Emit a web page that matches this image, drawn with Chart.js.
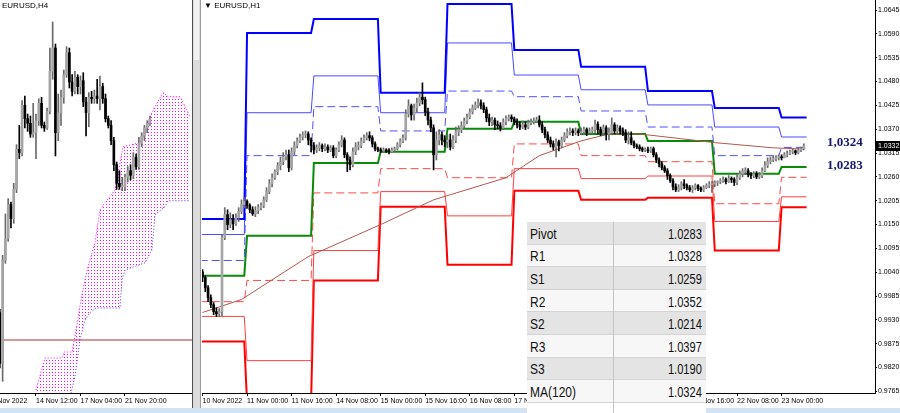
<!DOCTYPE html>
<html><head><meta charset="utf-8">
<script src="https://cdn.jsdelivr.net/npm/chart.js@4.4.0/dist/chart.umd.min.js"></script>
<style>
html,body{margin:0;padding:0;background:#fff;width:900px;height:413px;overflow:hidden;position:relative;font-family:'Liberation Sans',Arial,sans-serif;}
.abs{position:absolute;}
#lc{left:0;top:0;}
#rc{left:200px;top:0;}
.ttl{font-family:'Liberation Sans',Arial,sans-serif;font-size:8px;color:#000;white-space:nowrap;}
#tbl{left:527px;top:222px;width:179px;height:191px;overflow:hidden;background:#fff;}
.row{height:22.6px;box-sizing:border-box;border-bottom:1px solid #d4d4d4;position:relative;background:#f7f7f7;}
.row.g{background:#e4e4e4;}
.lab{position:absolute;left:3px;top:50%;transform:translateY(-50%) scaleX(0.8);transform-origin:left center;font-size:15px;color:#111;white-space:nowrap;}
.val{position:absolute;right:4px;top:50%;transform:translateY(-50%) scaleX(0.74);transform-origin:right center;font-size:15px;color:#111;white-space:nowrap;}
#div{left:86px;top:0;width:1px;height:191px;background:#c4c4c4;}
</style></head>
<body>
<canvas id="lc" class="abs" width="192" height="408"></canvas>
<div class="abs" style="left:192px;top:0;width:1px;height:408px;background:#505050"></div>
<div class="abs" style="left:193px;top:0;width:7px;height:408px;background:#dcdcdc"></div>
<div class="abs" style="left:194px;top:0;width:5px;height:60px;background:#f2f2f2"></div>
<div class="abs" style="left:200px;top:0;width:1px;height:408px;background:#9a9a9a"></div>
<canvas id="rc" class="abs" width="700" height="408"></canvas>
<div class="abs" style="left:0;top:408px;width:900px;height:5px;background:#d3e3f3"></div>
<div class="abs ttl" style="left:2px;top:1px;">EURUSD,H4</div>
<div class="abs ttl" style="left:204px;top:1px;">▼ EURUSD,H1</div>
<div id="tbl" class="abs"></div>
<script>
// ---------------- DATA ----------------
// EURUSD H1 bars [open, high, low, close], index 0 = 10 Nov 2022 08:00
const h1Bars = [
[1.0041,1.0046,1.0018,1.0028],[1.0028,1.0032,0.9995,1.0004],[1.0004,1.0009,0.9972,0.9981],[0.9981,0.9988,0.9958,0.9965],
[0.9965,0.9970,0.9942,0.9949],[0.9949,0.9958,0.9938,0.9944],[0.9944,0.9956,0.9938,0.9949],[0.9949,1.0127,0.9940,1.0120],
[1.0120,1.0189,1.0115,1.0173],[1.0173,1.0184,1.0138,1.0150],[1.0150,1.0177,1.0143,1.0161],[1.0161,1.0173,1.0138,1.0152],
[1.0152,1.0175,1.0148,1.0166],[1.0166,1.0189,1.0157,1.0180],[1.0180,1.0207,1.0175,1.0196],[1.0196,1.0212,1.0189,1.0203],
[1.0203,1.0207,1.0187,1.0194],[1.0194,1.0198,1.0177,1.0184],[1.0184,1.0191,1.0171,1.0175],[1.0175,1.0191,1.0168,1.0182],
[1.0182,1.0196,1.0175,1.0189],[1.0189,1.0200,1.0184,1.0194],[1.0194,1.0214,1.0189,1.0207],[1.0207,1.0235,1.0203,1.0226],
[1.0226,1.0254,1.0221,1.0244],[1.0244,1.0267,1.0237,1.0258],[1.0258,1.0276,1.0254,1.0272],[1.0272,1.0293,1.0265,1.0286],
[1.0286,1.0306,1.0276,1.0295],[1.0295,1.0316,1.0288,1.0306],[1.0306,1.0322,1.0299,1.0311],[1.0311,1.0322,1.0272,1.0281],
[1.0281,1.0327,1.0276,1.0318],[1.0318,1.0341,1.0311,1.0332],[1.0332,1.0350,1.0327,1.0343],[1.0343,1.0359,1.0339,1.0352],
[1.0352,1.0364,1.0345,1.0357],[1.0357,1.0366,1.0350,1.0359],[1.0359,1.0364,1.0334,1.0345],[1.0345,1.0350,1.0318,1.0332],
[1.0332,1.0339,1.0313,1.0322],[1.0322,1.0334,1.0316,1.0327],[1.0327,1.0339,1.0320,1.0332],[1.0332,1.0336,1.0318,1.0325],
[1.0325,1.0336,1.0320,1.0329],[1.0329,1.0334,1.0316,1.0322],[1.0322,1.0332,1.0318,1.0327],[1.0327,1.0332,1.0304,1.0309],
[1.0309,1.0327,1.0304,1.0322],[1.0322,1.0341,1.0318,1.0334],[1.0334,1.0355,1.0329,1.0345],[1.0345,1.0350,1.0304,1.0311],
[1.0311,1.0316,1.0272,1.0299],[1.0299,1.0306,1.0276,1.0288],[1.0288,1.0327,1.0283,1.0318],[1.0318,1.0339,1.0311,1.0329],
[1.0329,1.0341,1.0322,1.0332],[1.0332,1.0350,1.0327,1.0343],[1.0343,1.0357,1.0339,1.0350],[1.0350,1.0362,1.0345,1.0355],
[1.0355,1.0364,1.0343,1.0350],[1.0350,1.0355,1.0329,1.0336],[1.0336,1.0341,1.0320,1.0325],[1.0325,1.0329,1.0318,1.0322],
[1.0322,1.0327,1.0316,1.0320],[1.0320,1.0327,1.0316,1.0322],[1.0322,1.0325,1.0316,1.0320],[1.0320,1.0325,1.0313,1.0318],
[1.0318,1.0327,1.0316,1.0322],[1.0322,1.0329,1.0318,1.0325],[1.0325,1.0339,1.0322,1.0334],[1.0334,1.0348,1.0329,1.0343],
[1.0343,1.0357,1.0339,1.0350],[1.0350,1.0415,1.0345,1.0405],[1.0405,1.0438,1.0398,1.0424],[1.0424,1.0428,1.0391,1.0403],
[1.0403,1.0428,1.0391,1.0419],[1.0419,1.0442,1.0410,1.0431],[1.0431,1.0454,1.0424,1.0444],[1.0444,1.0477,1.0428,1.0438],
[1.0438,1.0444,1.0401,1.0410],[1.0410,1.0419,1.0380,1.0391],[1.0391,1.0398,1.0364,1.0373],[1.0373,1.0380,1.0276,1.0311],
[1.0311,1.0364,1.0299,1.0345],[1.0345,1.0369,1.0334,1.0357],[1.0357,1.0364,1.0334,1.0345],[1.0345,1.0355,1.0329,1.0341],
[1.0341,1.0357,1.0327,1.0345],[1.0345,1.0359,1.0322,1.0329],[1.0329,1.0355,1.0325,1.0345],[1.0345,1.0375,1.0339,1.0364],
[1.0364,1.0378,1.0355,1.0369],[1.0369,1.0387,1.0362,1.0378],[1.0378,1.0396,1.0371,1.0389],[1.0389,1.0405,1.0382,1.0398],
[1.0398,1.0417,1.0394,1.0410],[1.0410,1.0426,1.0405,1.0419],[1.0419,1.0433,1.0415,1.0426],[1.0426,1.0440,1.0419,1.0431],
[1.0431,1.0438,1.0417,1.0424],[1.0424,1.0431,1.0408,1.0415],[1.0415,1.0421,1.0387,1.0396],[1.0396,1.0405,1.0378,1.0387],
[1.0387,1.0398,1.0378,1.0391],[1.0391,1.0396,1.0369,1.0380],[1.0380,1.0389,1.0371,1.0378],[1.0378,1.0385,1.0366,1.0373],
[1.0373,1.0394,1.0369,1.0387],[1.0387,1.0401,1.0380,1.0394],[1.0394,1.0403,1.0389,1.0398],[1.0398,1.0403,1.0387,1.0394],
[1.0394,1.0398,1.0380,1.0387],[1.0387,1.0394,1.0373,1.0380],[1.0380,1.0387,1.0369,1.0375],[1.0375,1.0389,1.0371,1.0380],
[1.0380,1.0387,1.0369,1.0375],[1.0375,1.0391,1.0371,1.0385],[1.0385,1.0394,1.0380,1.0387],[1.0387,1.0396,1.0382,1.0389],
[1.0389,1.0398,1.0385,1.0391],[1.0391,1.0401,1.0375,1.0380],[1.0380,1.0387,1.0362,1.0369],[1.0369,1.0375,1.0350,1.0357],
[1.0357,1.0364,1.0339,1.0345],[1.0345,1.0352,1.0329,1.0336],[1.0336,1.0343,1.0322,1.0329],[1.0329,1.0348,1.0306,1.0341],
[1.0341,1.0345,1.0320,1.0332],[1.0332,1.0352,1.0327,1.0345],[1.0345,1.0362,1.0341,1.0355],[1.0355,1.0371,1.0350,1.0364],
[1.0364,1.0373,1.0357,1.0366],[1.0366,1.0371,1.0355,1.0362],[1.0362,1.0373,1.0357,1.0366],[1.0366,1.0371,1.0355,1.0362],
[1.0362,1.0373,1.0357,1.0364],[1.0364,1.0375,1.0357,1.0369],[1.0369,1.0373,1.0355,1.0362],[1.0362,1.0373,1.0359,1.0366],
[1.0366,1.0375,1.0359,1.0369],[1.0369,1.0391,1.0362,1.0382],[1.0382,1.0387,1.0359,1.0369],[1.0369,1.0375,1.0355,1.0362],
[1.0362,1.0380,1.0355,1.0373],[1.0373,1.0378,1.0345,1.0359],[1.0359,1.0373,1.0345,1.0362],[1.0362,1.0396,1.0357,1.0380],
[1.0380,1.0385,1.0359,1.0366],[1.0366,1.0380,1.0362,1.0373],[1.0373,1.0378,1.0359,1.0366],[1.0366,1.0373,1.0355,1.0362],
[1.0362,1.0369,1.0339,1.0345],[1.0345,1.0364,1.0336,1.0350],[1.0350,1.0364,1.0334,1.0339],[1.0339,1.0343,1.0327,1.0332],
[1.0332,1.0336,1.0325,1.0329],[1.0329,1.0334,1.0320,1.0325],[1.0325,1.0329,1.0318,1.0322],[1.0322,1.0327,1.0318,1.0322],
[1.0322,1.0329,1.0316,1.0320],[1.0320,1.0329,1.0316,1.0325],[1.0325,1.0329,1.0306,1.0311],[1.0311,1.0316,1.0293,1.0299],
[1.0299,1.0304,1.0283,1.0290],[1.0290,1.0295,1.0276,1.0281],[1.0281,1.0286,1.0270,1.0274],[1.0274,1.0279,1.0254,1.0263],
[1.0263,1.0267,1.0247,1.0251],[1.0251,1.0256,1.0230,1.0237],[1.0237,1.0244,1.0226,1.0230],[1.0230,1.0242,1.0226,1.0235],
[1.0235,1.0249,1.0230,1.0244],[1.0244,1.0254,1.0233,1.0240],[1.0240,1.0244,1.0230,1.0235],[1.0235,1.0240,1.0226,1.0230],
[1.0230,1.0240,1.0224,1.0235],[1.0235,1.0244,1.0230,1.0240],[1.0240,1.0242,1.0228,1.0233],[1.0233,1.0237,1.0226,1.0230],
[1.0230,1.0240,1.0226,1.0235],[1.0235,1.0244,1.0233,1.0240],[1.0240,1.0249,1.0235,1.0242],[1.0242,1.0249,1.0224,1.0244],
[1.0244,1.0251,1.0237,1.0247],[1.0247,1.0251,1.0240,1.0249],[1.0249,1.0256,1.0244,1.0251],[1.0251,1.0260,1.0247,1.0254],
[1.0254,1.0258,1.0244,1.0249],[1.0249,1.0263,1.0247,1.0256],[1.0256,1.0260,1.0247,1.0254],[1.0254,1.0258,1.0240,1.0247],
[1.0247,1.0265,1.0242,1.0258],[1.0258,1.0274,1.0254,1.0267],[1.0267,1.0279,1.0260,1.0272],[1.0272,1.0281,1.0265,1.0274],
[1.0274,1.0279,1.0260,1.0265],[1.0265,1.0270,1.0256,1.0263],[1.0263,1.0272,1.0258,1.0267],[1.0267,1.0272,1.0256,1.0260],
[1.0260,1.0270,1.0256,1.0263],[1.0263,1.0281,1.0258,1.0274],[1.0274,1.0295,1.0272,1.0286],[1.0286,1.0304,1.0281,1.0295],
[1.0295,1.0306,1.0290,1.0299],[1.0299,1.0309,1.0295,1.0302],[1.0302,1.0309,1.0297,1.0304],[1.0304,1.0311,1.0299,1.0306],
[1.0306,1.0311,1.0299,1.0304],[1.0304,1.0316,1.0304,1.0311],[1.0311,1.0320,1.0306,1.0313],[1.0313,1.0322,1.0311,1.0318],
[1.0318,1.0325,1.0313,1.0320],[1.0320,1.0322,1.0311,1.0316],[1.0316,1.0327,1.0313,1.0322],[1.0322,1.0329,1.0318,1.0325],
[1.0325,1.0336,1.0322,1.0332]
];

// Daily pivot levels (one value per trading day: 10,11,14,15,16,17,18,21,22,23 Nov)
const dayStartIdx = [-1, 16, 40, 64, 88, 112, 136, 160, 184, 208];
const dayEndIdx   = [15, 39, 63, 87, 111, 135, 159, 183, 207, 217];
const r3 = [1.0163, 1.0592, 1.0624, 1.0454, 1.0659, 1.0553, 1.0514, 1.0458, 1.0419, 1.0397];
const r2 = [1.0127, 1.0408, 1.0493, 1.0408, 1.0569, 1.0495, 1.0461, 1.0426, 1.0375, 1.0352];
const r1 = [1.0067, 1.0309, 1.0422, 1.0366, 1.0458, 1.0445, 1.0412, 1.0375, 1.0309, 1.0328];
const pp = [1.0032, 1.0124, 1.0292, 1.0318, 1.0371, 1.0387, 1.0359, 1.0343, 1.0267, 1.0283];
const s1 = [0.9972, 1.0021, 1.0223, 1.0279, 1.0258, 1.0336, 1.0309, 1.0295, 1.0198, 1.0259];
const s2 = [0.9938, 0.9836, 1.0090, 1.0226, 1.0170, 1.0279, 1.0256, 1.0262, 1.0157, 1.0214];
const s3 = [0.9880, 0.9740, 1.0021, 1.0191, 1.0057, 1.0228, 1.0207, 1.0212, 1.0090, 1.0190];

// MA(120) readings (bar index, value)
const maIdx = [0, 14, 38, 64, 83, 109, 121, 136, 146, 157, 172, 184, 205, 216];
const maVal = [0.9947, 0.9977, 1.0076, 1.0150, 1.0207, 1.0258, 1.0309, 1.0343, 1.0359, 1.0359, 1.0348, 1.0339, 1.0327, 1.0324];

const lastPrice = 1.0332;
const maLabelValue = 1.0324;
const pivotLabelValue = 1.0283;

const rightYTicks = [1.0645,1.0590,1.0535,1.0480,1.0425,1.0370,1.0315,1.0260,1.0205,1.0150,1.0095,1.0040,0.9985,0.9930,0.9875,0.9820,0.9765];
const rightXTickIdx = [0,16,32,48,64,80,96,112,128,144,160,176,192,208];
const rightXTickLabels = ['10 Nov 2022','11 Nov 00:00','11 Nov 16:00','14 Nov 08:00','15 Nov 00:00','15 Nov 16:00','16 Nov 08:00','17 Nov 00:00','17 Nov 16:00','18 Nov 08:00','21 Nov 00:00','21 Nov 16:00','22 Nov 08:00','23 Nov 00:00'];

// EURUSD H4 bars [open, high, low, close], first bar index 3 (10 Nov 2022 08:00)
const h4Start = 3;
const h4Bars = [
[1.0041,1.0046,0.9958,0.9965],[0.9965,1.0127,0.9938,1.0120],[1.0120,1.0189,1.0115,1.0152],[1.0152,1.0212,1.0148,1.0203],
[1.0203,1.0207,1.0168,1.0182],[1.0182,1.0235,1.0175,1.0226],[1.0226,1.0293,1.0221,1.0286],[1.0286,1.0322,1.0272,1.0281],
[1.0281,1.0359,1.0276,1.0352],[1.0352,1.0366,1.0318,1.0332],[1.0332,1.0339,1.0313,1.0325],[1.0325,1.0336,1.0304,1.0309],
[1.0309,1.0355,1.0304,1.0311],[1.0311,1.0339,1.0272,1.0329],[1.0329,1.0362,1.0322,1.0355],[1.0355,1.0364,1.0318,1.0322],
[1.0322,1.0327,1.0313,1.0318],[1.0318,1.0348,1.0316,1.0343],[1.0343,1.0438,1.0339,1.0403],[1.0403,1.0477,1.0391,1.0438],
[1.0438,1.0444,1.0276,1.0311],[1.0311,1.0369,1.0299,1.0341],[1.0341,1.0375,1.0322,1.0364],[1.0364,1.0405,1.0355,1.0398],
[1.0398,1.0440,1.0394,1.0431],[1.0431,1.0438,1.0378,1.0387],[1.0387,1.0398,1.0366,1.0373],[1.0373,1.0403,1.0369,1.0394],
[1.0394,1.0398,1.0369,1.0380],[1.0380,1.0396,1.0369,1.0389],[1.0389,1.0401,1.0350,1.0357],[1.0357,1.0364,1.0306,1.0341],
[1.0341,1.0371,1.0320,1.0364],[1.0364,1.0373,1.0355,1.0362],[1.0362,1.0375,1.0355,1.0366],[1.0366,1.0391,1.0355,1.0362],
[1.0362,1.0396,1.0345,1.0380],[1.0380,1.0385,1.0355,1.0362],[1.0362,1.0369,1.0327,1.0332],[1.0332,1.0336,1.0318,1.0322],
[1.0322,1.0329,1.0293,1.0299],[1.0299,1.0304,1.0254,1.0263],[1.0263,1.0267,1.0226,1.0235],[1.0235,1.0254,1.0226,1.0230],
[1.0230,1.0244,1.0224,1.0230],[1.0230,1.0249,1.0224,1.0244],[1.0244,1.0260,1.0237,1.0254],[1.0254,1.0263,1.0240,1.0247],
[1.0247,1.0281,1.0242,1.0274],[1.0274,1.0279,1.0256,1.0260],[1.0260,1.0304,1.0256,1.0295],[1.0295,1.0311,1.0290,1.0306],
[1.0306,1.0322,1.0299,1.0318],[1.0318,1.0329,1.0311,1.0325],[1.0325,1.0336,1.0322,1.0332]
];
// Ichimoku cloud boundaries on H4 (bar index, value)
const spanAIdx = [16.0,19.2,25.4,26.1,29.0,30.0,32.6,34.7,37.2,39.0,40.8,44.4,47.3,53.4,55.2,57.0,58.8,61.7,63.5,67.8,69.6,71.4];
const spanAVal = [0.9925,0.9973,0.9973,0.9982,0.9982,1.0005,1.0070,1.0110,1.0146,1.0195,1.0206,1.0225,1.0290,1.0296,1.0311,1.0335,1.0350,1.0371,1.0365,1.0365,1.0350,1.0335];
const spanBIdx = [16.0,28.3,30.0,31.8,33.6,35.4,37.6,46.2,46.9,48.0,55.2,57.7,58.8,62.4,63.5,71.4];
const spanBVal = [0.9900,0.9915,0.9945,1.0000,1.0030,1.0041,1.0048,1.0048,1.0090,1.0105,1.0116,1.0135,1.0188,1.0200,1.0209,1.0209];
const leftLevel = 1.0000;
const leftXTickIdx = [0,16,32,48];
const leftXTickLabels = ['9 Nov 2022','14 Nov 12:00','17 Nov 04:00','21 Nov 20:00'];

// Table
const tableLabels = ['Pivot','R1','S1','R2','S2','R3','S3','MA(120)'];
const tableValues = [1.0283,1.0328,1.0259,1.0352,1.0214,1.0397,1.0190,1.0324];

// ---------------- RENDER ----------------
const pxFont = "'Liberation Sans',Arial,sans-serif";
const tickSize = 7;
const bullBody = '#a4a4a4', bullWick = '#6a6a6a', bearColor = '#000000';

function candleSets(bars, start) {
  const up = i => bars[i][3] >= bars[i][0];
  return [
    {type:'bar', data: bars.map((b,i)=>({x:start+i, y:[b[0],b[3]]})), grouped:false, barThickness:2, minBarLength:1,
     borderWidth:0, backgroundColor: c => up(c.dataIndex) ? bullBody : bearColor},
    {type:'bar', data: bars.map((b,i)=>({x:start+i, y:[b[2],b[1]]})), grouped:false, barThickness:1,
     borderWidth:0, backgroundColor: c => up(c.dataIndex) ? bullWick : bearColor}
  ];
}
function stepPts(levels) {
  const pts = [];
  levels.forEach((v,i)=>{ pts.push({x:dayStartIdx[i], y:v}); pts.push({x:dayEndIdx[i], y:v}); });
  return pts;
}
function lineDs(data, color, width, dash) {
  return {type:'line', data, borderColor:color, borderWidth:width, borderDash:dash||[], pointRadius:0, fill:false, tension:0};
}
function xAxis(min, max, tickIdx, tickLabels) {
  return {type:'linear', offset:false, min, max,
    afterBuildTicks: s => { s.ticks = tickIdx.map(v=>({value:v})); },
    afterFit: s => { s.height = 15; s.paddingLeft = 0; s.paddingRight = 0; },
    ticks:{autoSkip:false, maxRotation:0, minRotation:0, align:'start', padding:1, color:'#000',
           font:{family:pxFont, size:tickSize}, callback:(v,i)=>tickLabels[i]},
    grid:{offset:false, drawOnChartArea:false, drawTicks:true, tickLength:3, color:'#000'},
    border:{display:true, color:'#000', width:1}};
}

// Right (H1) chart
const overlay = {
  id:'overlay',
  afterDraw(chart) {
    const {ctx, chartArea, scales:{y}} = chart;
    ctx.save();
    const py = Math.round(y.getPixelForValue(lastPrice));
    ctx.fillStyle = '#000';
    ctx.fillRect(chartArea.right + 1, py - 5, 25, 10);
    ctx.fillStyle = '#fff';
    ctx.font = tickSize + "px " + pxFont;
    ctx.textBaseline = 'middle'; ctx.textAlign = 'left';
    ctx.fillText(lastPrice.toFixed(4), chartArea.right + 3, py);
    ctx.font = "bold 13px 'Liberation Serif','Times New Roman',serif";
    ctx.fillStyle = '#16166e';
    ctx.fillText(maLabelValue.toFixed(4).replace('.', ','), chartArea.right - 48, y.getPixelForValue(maLabelValue) - 6);
    ctx.fillText(pivotLabelValue.toFixed(4).replace('.', ','), chartArea.right - 48, y.getPixelForValue(pivotLabelValue) - 1);
    ctx.restore();
  }
};

new Chart(document.getElementById('rc'), {
  type:'bar',
  data:{datasets:[
    ...candleSets(h1Bars, 0),
    lineDs(maIdx.map((x,i)=>({x, y:maVal[i]})), '#b5564e', 1),
    lineDs(stepPts(r3), '#0000ff', 2),
    lineDs(stepPts(r2), '#4a4aff', 1),
    lineDs(stepPts(r1), '#5050ff', 1, [8,4]),
    lineDs(stepPts(pp), '#0a8a0a', 2),
    lineDs(stepPts(s1), '#ff4a4a', 1, [8,4]),
    lineDs(stepPts(s2), '#ff4040', 1),
    lineDs(stepPts(s3), '#ff0000', 2)
  ]},
  options:{
    responsive:false, animation:false, events:[],
    layout:{padding:{left:2, right:0, top:0, bottom:0}},
    plugins:{legend:{display:false}, tooltip:{enabled:false}},
    scales:{
      x: xAxis(-0.18, 241.56, rightXTickIdx, rightXTickLabels),
      y:{type:'linear', position:'right', min:0.97613, max:1.06681,
         afterBuildTicks: s => { s.ticks = rightYTicks.map(v=>({value:v})); },
         afterFit: s => { s.width = 25; s.paddingTop = 0; s.paddingBottom = 0; },
         ticks:{color:'#000', padding:1, font:{family:pxFont, size:tickSize}, callback:v=>v.toFixed(4)},
         grid:{drawOnChartArea:false, drawTicks:true, tickLength:2, color:'#000'},
         border:{display:true, color:'#000', width:1}}
    }
  },
  plugins:[overlay]
});

// Left (H4) chart
const lcv = document.getElementById('lc');
const tile = document.createElement('canvas'); tile.width = 3; tile.height = 3;
const tctx = tile.getContext('2d'); tctx.fillStyle = '#ff00ff'; tctx.fillRect(1,0,1,1);
const cloudPattern = lcv.getContext('2d').createPattern(tile, 'repeat');

new Chart(lcv, {
  type:'bar',
  data:{datasets:[
    ...candleSets(h4Bars, h4Start),
    {type:'line', data: spanAIdx.map((x,i)=>({x, y:spanAVal[i]})), borderColor:'#ff00ff', borderWidth:1, borderDash:[1,2],
     pointRadius:0, tension:0, fill:{target:'+1'}, backgroundColor: cloudPattern},
    {type:'line', data: spanBIdx.map((x,i)=>({x, y:spanBVal[i]})), borderColor:'#3a3aff', borderWidth:1, borderDash:[1,2],
     pointRadius:0, tension:0, fill:false},
    lineDs([{x:0, y:leftLevel},{x:80, y:leftLevel}], '#a8322c', 1)
  ]},
  options:{
    responsive:false, animation:false, events:[],
    layout:{padding:0},
    plugins:{legend:{display:false}, tooltip:{enabled:false}},
    scales:{
      x: xAxis(3.06, 72.1, leftXTickIdx, leftXTickLabels),
      y:{type:'linear', display:false, min:0.99205, max:1.0510}
    }
  }
});

// Table
const tbl = document.getElementById('tbl');
tableLabels.forEach((lab,i)=>{
  const r = document.createElement('div');
  r.className = 'row' + (i % 2 === 0 ? ' g' : '');
  const a = document.createElement('span'); a.className = 'lab'; a.textContent = lab;
  const b = document.createElement('span'); b.className = 'val'; b.textContent = tableValues[i].toFixed(4);
  r.appendChild(a); r.appendChild(b); tbl.appendChild(r);
});
const extra = document.createElement('div'); extra.className = 'row'; extra.style.background = '#fff'; tbl.appendChild(extra);
const dv = document.createElement('div'); dv.id = 'div'; dv.className = 'abs'; tbl.appendChild(dv);
</script>
</body></html>
